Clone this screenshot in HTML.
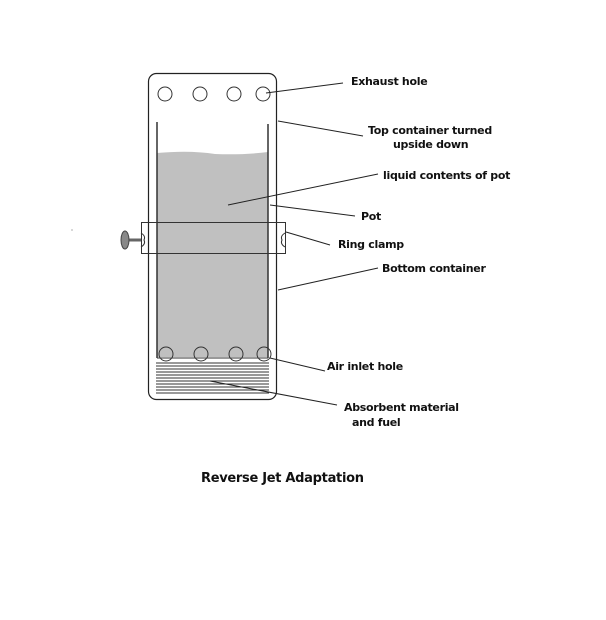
<!DOCTYPE html>
<html><head><style>
html,body{margin:0;padding:0;background:#fff;}
svg{display:block}
text{font-family:"DejaVu Sans","Liberation Sans",sans-serif;font-size:11px;fill:#111;font-weight:bold;letter-spacing:-0.3px}
</style></head><body>
<svg width="606" height="620" viewBox="0 0 606 620" xmlns="http://www.w3.org/2000/svg">
<rect x="0" y="0" width="606" height="620" fill="#fff"/>
<rect x="148.5" y="73.5" width="128" height="326" rx="8" fill="none" stroke="#222" stroke-width="1.2"/>
<path d="M157 153 Q190 150 215 154 Q245 155 268 152 L268 357 L157 357 Z" fill="#c0c0c0"/>
<line x1="157" y1="122" x2="157" y2="358" stroke="#333" stroke-width="1.5"/>
<line x1="268" y1="124" x2="268" y2="358" stroke="#333" stroke-width="1.5"/>
<line x1="157" y1="358" x2="268" y2="358" stroke="#333" stroke-width="1"/>
<g fill="#fff" stroke="#333" stroke-width="1">
<circle cx="165" cy="94" r="7"/><circle cx="200" cy="94" r="7"/><circle cx="234" cy="94" r="7"/><circle cx="263" cy="94" r="7"/>
</g>
<g fill="none" stroke="#333" stroke-width="1">
<circle cx="166" cy="354" r="7"/><circle cx="201" cy="354" r="7"/><circle cx="236" cy="354" r="7"/><circle cx="264" cy="354" r="7"/>
</g>
<g stroke="#333" stroke-width="1">
<line x1="156" y1="363" x2="269" y2="363"/><line x1="156" y1="366" x2="269" y2="366"/>
<line x1="156" y1="369" x2="269" y2="369"/><line x1="156" y1="372" x2="269" y2="372"/>
<line x1="156" y1="375" x2="269" y2="375"/><line x1="156" y1="378" x2="269" y2="378"/>
<line x1="156" y1="381" x2="269" y2="381"/><line x1="156" y1="384" x2="269" y2="384"/>
<line x1="156" y1="387" x2="269" y2="387"/><line x1="156" y1="390" x2="269" y2="390"/>
<line x1="156" y1="393" x2="269" y2="393"/>
</g>
<rect x="141.5" y="222.5" width="144" height="31" fill="none" stroke="#333" stroke-width="1"/>
<path d="M141 233 Q146 236 144 240 Q146 244 141 247" fill="none" stroke="#333"/>
<path d="M285 233 Q280 236 282 240 Q280 244 285 247" fill="none" stroke="#333"/>
<line x1="128" y1="240" x2="141" y2="240" stroke="#666" stroke-width="3"/>
<ellipse cx="125" cy="240" rx="4" ry="9" fill="#888" stroke="#444"/>
<g stroke="#222" stroke-width="1">
<line x1="266" y1="93" x2="343" y2="83"/>
<line x1="278" y1="121" x2="363" y2="136"/>
<line x1="228" y1="205" x2="378" y2="174"/>
<line x1="270" y1="205" x2="355" y2="216"/>
<line x1="286" y1="232" x2="330" y2="245"/>
<line x1="278" y1="290" x2="378" y2="268"/>
<line x1="270" y1="358" x2="325" y2="371"/>
<line x1="210" y1="381" x2="337" y2="405"/>
</g>
<text x="351" y="85">Exhaust hole</text>
<text x="368" y="134">Top container turned</text>
<text x="393" y="148">upside down</text>
<text x="383" y="179">liquid contents of pot</text>
<text x="361" y="220">Pot</text>
<text x="338" y="248">Ring clamp</text>
<text x="382" y="272">Bottom container</text>
<text x="327" y="370">Air inlet hole</text>
<text x="344" y="411">Absorbent material</text>
<text x="352" y="426">and fuel</text>
<text x="201" y="482" style="font-size:13px">Reverse Jet Adaptation</text>
<circle cx="72" cy="230" r="0.6" fill="#777"/>
</svg>
</body></html>
